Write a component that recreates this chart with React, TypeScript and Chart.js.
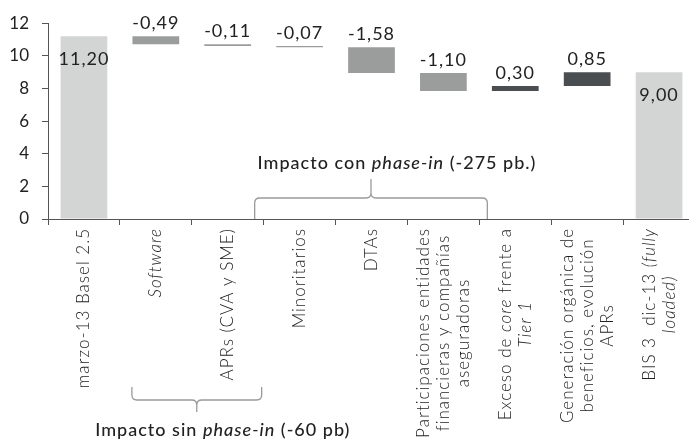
import React, { useEffect, useRef } from "react";
import { Chart, registerables } from "chart.js";

Chart.register(...registerables);

// Category labels, one entry per line; text between asterisks is set in italics.
const categoryLines: string[][] = [
  ["marzo-13 Basel 2.5"],
  ["*Software*"],
  ["APRs (CVA y SME)"],
  ["Minoritarios"],
  ["DTAs"],
  ["Participaciones entidades", "financieras y compañías", "aseguradoras"],
  ["Exceso de *core* frente a", "*Tier 1*"],
  ["Generación orgánica de", "beneficios, evolución", "APRs"],
  ["BIS 3  dic-13 *(fully*", "*loaded)*"],
];

// Capital ratio (%): opening and closing totals, plus each step's change.
const values: number[] = [11.2, -0.49, -0.11, -0.07, -1.58, -1.1, 0.3, 0.85, 9.0];
const isTotal: boolean[] = [true, false, false, false, false, false, false, false, true];

const yTicks = { min: 0, max: 12, step: 2 };

// Brace groups drawn under / over the axis.
const groups = [
  { from: 1, to: 2, side: "below", text: "Impacto sin *phase-in* (-60 pb)" },
  { from: 3, to: 5, side: "above", text: "Impacto con *phase-in* (-275 pb.)" },
];

const FONT = "Lato, 'Open Sans', sans-serif";
const COLOR_TOTAL = "#d3d4d4";
const COLOR_DOWN = "#9b9c9c";
const COLOR_UP = "#4b4e51";
const AXIS = "#555";
const TEXT = "#222";

function fmt(v: number) {
  return v.toFixed(2).replace(".", ",");
}

// Splits "a *b* c" into styled segments.
function segments(s: string) {
  const parts = s.split("*");
  return parts
    .map((t, i) => ({ t, italic: i % 2 === 1 }))
    .filter((p) => p.t.length > 0);
}

function richWidth(ctx: CanvasRenderingContext2D, s: string, size: number, weight: string) {
  let w = 0;
  for (const seg of segments(s)) {
    ctx.font = `${seg.italic ? "italic " : ""}${weight} ${size}px ${FONT}`;
    w += ctx.measureText(seg.t).width;
  }
  return w;
}

function drawRich(
  ctx: CanvasRenderingContext2D,
  s: string,
  cx: number,
  y: number,
  size: number,
  weight: string
) {
  const total = richWidth(ctx, s, size, weight);
  let x = cx - total / 2;
  ctx.textAlign = "left";
  for (const seg of segments(s)) {
    ctx.font = `${seg.italic ? "italic " : ""}${weight} ${size}px ${FONT}`;
    ctx.fillText(seg.t, x, y);
    x += ctx.measureText(seg.t).width;
  }
}

// Running totals -> floating bar ranges.
function buildRanges() {
  const out: [number, number][] = [];
  let run = 0;
  values.forEach((v, i) => {
    if (isTotal[i]) {
      out.push([0, v]);
      run = v;
    } else {
      out.push([run, run + v]);
      run += v;
    }
  });
  return out;
}

const valueLabels = {
  id: "valueLabels",
  afterDatasetsDraw(chart: any) {
    const ctx: CanvasRenderingContext2D = chart.ctx;
    const meta = chart.getDatasetMeta(0);
    ctx.save();
    ctx.fillStyle = TEXT;
    ctx.font = `18px ${FONT}`;
    ctx.textAlign = "center";
    ctx.textBaseline = "alphabetic";
    (ctx as any).letterSpacing = "1px";
    meta.data.forEach((bar: any, i: number) => {
      const { x, y, base } = bar.getProps(["x", "y", "base"], true);
      const top = Math.min(y, base);
      const ty = isTotal[i] ? top + 29 : top - 7;
      ctx.fillText(fmt(values[i]), x, ty);
    });
    ctx.restore();
  },
};

const axisDecor = {
  id: "axisDecor",
  afterDraw(chart: any) {
    const ctx: CanvasRenderingContext2D = chart.ctx;
    const xs = chart.scales.x;
    const bottom = chart.chartArea.bottom;

    // Rotated category labels
    ctx.save();
    ctx.fillStyle = TEXT;
    ctx.textBaseline = "middle";
    (ctx as any).letterSpacing = "1px";
    const size = 17;
    const lineH = 20;
    const gap = 9;
    categoryLines.forEach((lines, i) => {
      const cx = xs.getPixelForValue(i);
      const maxW = Math.max(...lines.map((l) => richWidth(ctx, l, size, "300")));
      ctx.save();
      ctx.translate(cx, bottom);
      ctx.rotate(-Math.PI / 2);
      lines.forEach((l, j) => {
        drawRich(ctx, l, -(gap + maxW / 2), (j - (lines.length - 1) / 2) * lineH, size, "300");
      });
      ctx.restore();
    });
    ctx.restore();

    // Braces with captions
    ctx.save();
    ctx.strokeStyle = "#9a9a9a";
    ctx.lineWidth = 1.3;
    ctx.fillStyle = TEXT;
    ctx.textBaseline = "middle";
    (ctx as any).letterSpacing = "1px";
    const r = 5;
    groups.forEach((g) => {
      const half = (xs.getPixelForValue(1) - xs.getPixelForValue(0)) / 2;
      let xl: number, xr: number, yEnd: number, yBar: number, yTip: number, yText: number;
      if (g.side === "above") {
        xl = xs.getPixelForValue(g.from) - half - 9;
        xr = xs.getPixelForValue(g.to) + half + 8;
        yEnd = bottom;
        yBar = bottom - 21;
        yTip = bottom - 40;
        yText = bottom - 56;
      } else {
        xl = xs.getPixelForValue(g.from) - half + 12;
        xr = xs.getPixelForValue(g.to) + half - 2;
        yEnd = bottom + 168;
        yBar = bottom + 181;
        yTip = bottom + 193;
        yText = bottom + 211;
      }
      const dir = yEnd > yBar ? 1 : -1; // direction from bar toward the ends
      const xm = (xl + xr) / 2;
      ctx.beginPath();
      ctx.moveTo(xl, yEnd);
      ctx.lineTo(xl, yBar + dir * r);
      ctx.quadraticCurveTo(xl, yBar, xl + r, yBar);
      ctx.lineTo(xm - r, yBar);
      ctx.quadraticCurveTo(xm, yBar, xm, yBar - dir * r);
      ctx.lineTo(xm, yTip);
      ctx.moveTo(xm, yBar - dir * r);
      ctx.quadraticCurveTo(xm, yBar, xm + r, yBar);
      ctx.lineTo(xr - r, yBar);
      ctx.quadraticCurveTo(xr, yBar, xr, yBar + dir * r);
      ctx.lineTo(xr, yEnd);
      ctx.stroke();
      drawRich(ctx, g.text, xm + 26, yText, 18, "500");
    });
    ctx.restore();
  },
};

export default function App() {
  const ref = useRef<HTMLCanvasElement | null>(null);

  useEffect(() => {
    if (!ref.current) return;
    const ranges = buildRanges();
    const colors = values.map((v, i) => (isTotal[i] ? COLOR_TOTAL : v < 0 ? COLOR_DOWN : COLOR_UP));
    const chart = new Chart(ref.current, {
      type: "bar",
      data: {
        labels: categoryLines.map((l) => l.join(" ").split("*").join("")),
        datasets: [
          {
            data: ranges as any,
            backgroundColor: colors,
            borderWidth: 0,
            barPercentage: 0.65,
            categoryPercentage: 1,
          },
        ],
      },
      options: {
        animation: false,
        responsive: true,
        maintainAspectRatio: false,
        layout: { padding: { top: 18, right: 5, left: 0, bottom: 0 } },
        plugins: { legend: { display: false }, tooltip: { enabled: false } },
        scales: {
          x: {
            offset: true,
            grid: {
              display: true,
              offset: true,
              drawOnChartArea: false,
              drawTicks: true,
              tickLength: 6,
              color: AXIS,
              tickColor: AXIS,
            },
            border: { display: true, color: AXIS },
            ticks: { display: false },
            afterFit: (s: any) => {
              s.height = 222;
            },
          },
          y: {
            min: yTicks.min,
            max: yTicks.max,
            ticks: {
              stepSize: yTicks.step,
              padding: 13,
              color: TEXT,
              font: { family: FONT, size: 17 },
            },
            grid: { drawOnChartArea: false, tickLength: 6, color: AXIS, tickColor: AXIS },
            border: { display: true, color: AXIS },
            afterFit: (s: any) => {
              s.width = 48;
            },
          },
        },
      },
      plugins: [valueLabels, axisDecor],
    });
    return () => chart.destroy();
  }, []);

  return (
    <div
      style={{
        position: "absolute",
        left: 0,
        top: 0,
        width: 689,
        height: 441,
        overflow: "hidden",
        background: "#fff",
      }}
    >
      <div style={{ position: "relative", width: 700, height: 441 }}>
        <canvas ref={ref} />
      </div>
    </div>
  );
}
